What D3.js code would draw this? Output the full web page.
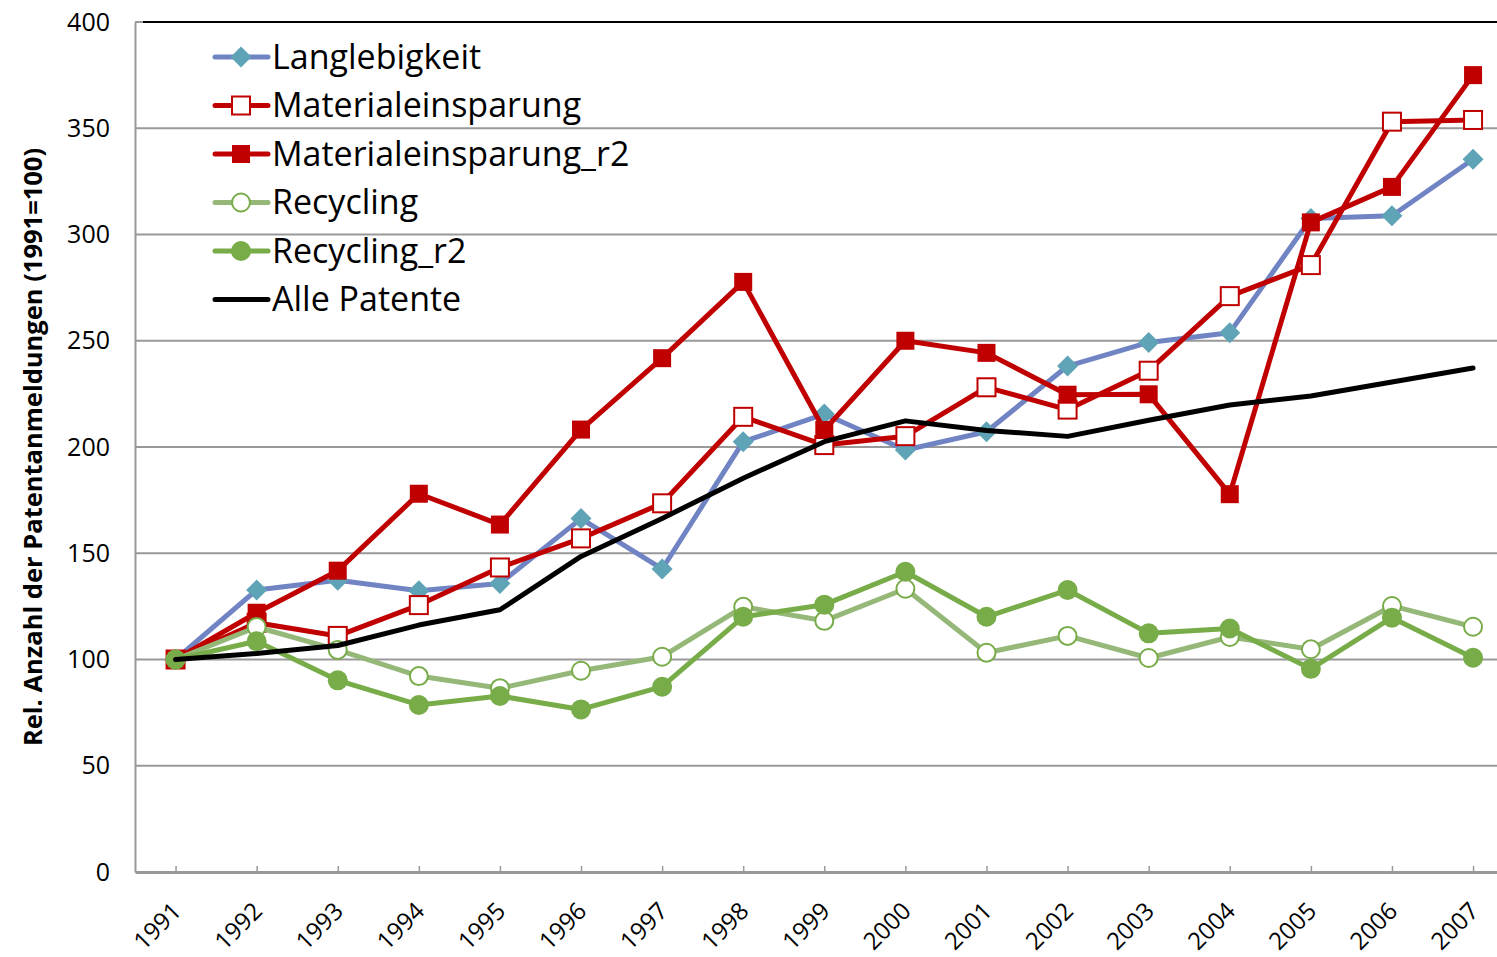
<!DOCTYPE html>
<html>
<head>
<meta charset="utf-8">
<script src="https://cdn.jsdelivr.net/npm/d3@7"></script>
<style>
  html, body { margin: 0; padding: 0; background: #fff; }
  svg { display: block; font-family: "Open Sans", "Noto Sans", sans-serif; }
</style>
</head>
<body>
<svg id="chart" width="1497" height="957"></svg>
<script>
const years = ["1991","1992","1993","1994","1995","1996","1997","1998","1999","2000","2001","2002","2003","2004","2005","2006","2007"];
const yTicks = [0, 50, 100, 150, 200, 250, 300, 350, 400];

const langlebigkeit      = [100, 132.7, 137.3, 132.4, 135.8, 166.3, 142.6, 202.5, 215.5, 198.6, 207.2, 238.1, 249.2, 253.8, 307.5, 308.8, 335.4];
const materialeinsparung = [100, 117.3, 111.1, 125.6, 143.3, 157.0, 173.5, 214.2, 200.9, 205.1, 228.1, 217.6, 235.9, 271.0, 285.6, 353.1, 353.9];
const materialeinsp_r2   = [100, 122.0, 141.8, 178.0, 163.5, 208.2, 241.8, 277.7, 208.0, 250.0, 244.3, 224.6, 224.8, 177.8, 305.7, 322.4, 375.0];
const recycling          = [100, 115.3, 104.5, 92.2, 86.5, 94.7, 101.3, 124.8, 118.2, 133.3, 103.2, 111.1, 100.7, 110.6, 104.8, 125.2, 115.4];
const recycling_r2       = [100, 108.6, 90.2, 78.6, 82.8, 76.5, 87.2, 120.1, 125.8, 141.3, 120.1, 132.7, 112.3, 114.6, 95.6, 119.7, 100.8];
const allePatente        = [100, 102.8, 106.6, 116.2, 123.4, 148.5, 166.4, 185.3, 202.5, 212.3, 207.8, 205.0, 212.6, 219.8, 224.0, 230.6, 237.2];

const seriesNames = ["Langlebigkeit", "Materialeinsparung", "Materialeinsparung_r2", "Recycling", "Recycling_r2", "Alle Patente"];

const series = [
  {name: seriesNames[0], values: langlebigkeit,      line: "#7084C4", marker: "diamond", fill: "#5FA3B6", stroke: "none"},
  {name: seriesNames[1], values: materialeinsparung, line: "#C00000", marker: "square",  fill: "#FFFFFF", stroke: "#C00000"},
  {name: seriesNames[2], values: materialeinsp_r2,   line: "#C00000", marker: "square",  fill: "#C00000", stroke: "none"},
  {name: seriesNames[3], values: recycling,          line: "#95B879", marker: "circle",  fill: "#FFFFFF", stroke: "#77AC49"},
  {name: seriesNames[4], values: recycling_r2,       line: "#77AC49", marker: "circle",  fill: "#77AC49", stroke: "none"},
  {name: seriesNames[5], values: allePatente,        line: "#000000", marker: "none",    fill: "none",    stroke: "none"}
];

const svg = d3.select("#chart");
const plotLeft = 135, plotRight = 1513.6, plotTop = 22, plotBottom = 872;

const x = d3.scalePoint().domain(years).range([plotLeft, plotRight]).padding(0.5);
const y = d3.scaleLinear().domain([0, 400]).range([plotBottom, plotTop]);

// gridlines
svg.append("g").selectAll("line")
  .data(yTicks.filter(d => d > 0 && d < 400))
  .join("line")
  .attr("x1", plotLeft).attr("x2", 1497)
  .attr("y1", d => y(d)).attr("y2", d => y(d))
  .attr("stroke", "#999999").attr("stroke-width", 2);

// top border line
svg.append("line").attr("x1", plotLeft).attr("x2", 143).attr("y1", y(400)).attr("y2", y(400))
  .attr("stroke", "#999999").attr("stroke-width", 2);
svg.append("line").attr("x1", 143).attr("x2", 1497).attr("y1", y(400)).attr("y2", y(400))
  .attr("stroke", "#000000").attr("stroke-width", 2);

// y axis
const yAxis = svg.append("g").attr("transform", `translate(${plotLeft},0)`)
  .call(d3.axisLeft(y).tickValues(yTicks).tickSize(0).tickPadding(25));
yAxis.select(".domain").attr("stroke", "#999999").attr("stroke-width", 2);
yAxis.selectAll("text").attr("font-size", 25).attr("fill", "#000")
  .attr("font-family", "'Open Sans', sans-serif");

// x axis
const xAxis = svg.append("g").attr("transform", `translate(0,${plotBottom})`)
  .call(d3.axisBottom(x).tickSize(-6).tickSizeOuter(0).tickPadding(0));
xAxis.select(".domain").attr("stroke", "#999999").attr("stroke-width", 3);
xAxis.selectAll(".tick line").attr("stroke", "#999999").attr("stroke-width", 1.5);
xAxis.selectAll("text")
  .attr("font-size", 24).attr("fill", "#000")
  .attr("font-family", "'Open Sans', sans-serif")
  .attr("text-anchor", "end")
  .attr("dy", null).attr("y", null)
  .attr("transform", "translate(2,36) rotate(-45)")
  .attr("dominant-baseline", "middle");

// y title
svg.append("text")
  .attr("transform", `translate(42,447) rotate(-90)`)
  .attr("text-anchor", "middle")
  .attr("font-size", 25.5).attr("font-weight", "bold").attr("fill", "#000")
  .text("Rel. Anzahl der Patentanmeldungen (1991=100)");

const lineGen = d3.line().x((d, i) => x(years[i])).y(d => y(d));

function drawMarker(g, s, cx, cy) {
  if (s.marker === "diamond") {
    g.append("path")
      .attr("d", `M${cx},${cy - 10.5}L${cx + 10.5},${cy}L${cx},${cy + 10.5}L${cx - 10.5},${cy}Z`)
      .attr("fill", s.fill);
  } else if (s.marker === "square") {
    g.append("rect").attr("x", cx - 9).attr("y", cy - 9).attr("width", 18).attr("height", 18)
      .attr("fill", s.fill).attr("stroke", s.stroke).attr("stroke-width", s.stroke === "none" ? 0 : 2);
  } else if (s.marker === "circle") {
    g.append("circle").attr("cx", cx).attr("cy", cy).attr("r", s.stroke === "none" ? 10 : 9)
      .attr("fill", s.fill).attr("stroke", s.stroke).attr("stroke-width", s.stroke === "none" ? 0 : 2);
  }
}

// plot series
const plot = svg.append("g");
series.forEach(s => {
  const g = plot.append("g");
  g.append("path").datum(s.values)
    .attr("d", lineGen).attr("fill", "none")
    .attr("stroke", s.line).attr("stroke-width", 5)
    .attr("stroke-linejoin", "round").attr("stroke-linecap", "round");
  s.values.forEach((v, i) => drawMarker(g, s, x(years[i]), y(v)));
});

// legend
const legend = svg.append("g");
const legY0 = 57, legStep = 48.5;
series.forEach((s, i) => {
  const ly = legY0 + i * legStep;
  const g = legend.append("g");
  g.append("line").attr("x1", 215).attr("x2", 268).attr("y1", ly).attr("y2", ly)
    .attr("stroke", s.line).attr("stroke-width", 5).attr("stroke-linecap", "round");
  drawMarker(g, s, 241, ly);
  g.append("text").attr("x", 272).attr("y", ly).attr("dy", "0.35em")
    .attr("font-size", 34).attr("fill", "#000")
    .text(s.name);
});
</script>
</body>
</html>
